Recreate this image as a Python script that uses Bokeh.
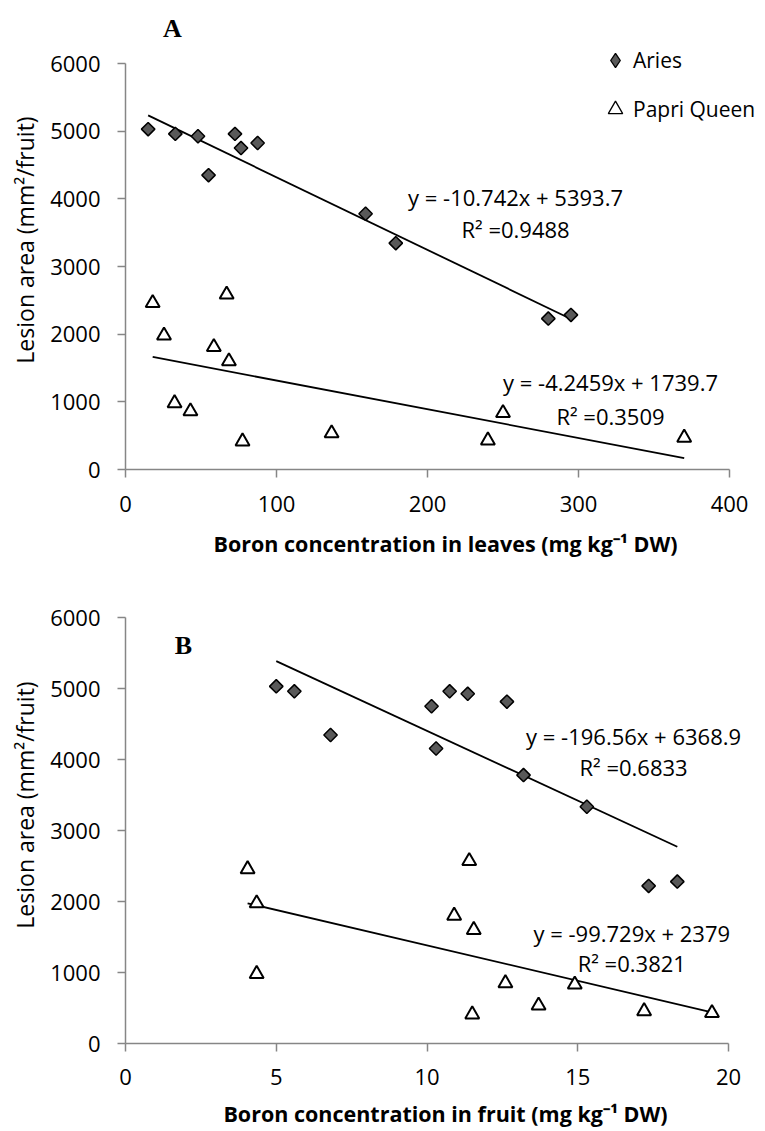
import numpy as np
from bokeh.plotting import figure
from bokeh.models import Range1d, Legend, LegendItem, Label, FixedTicker
from bokeh.layouts import column
from bokeh.embed import file_html
from bokeh.resources import INLINE

# ---------------- data ----------------
# Panel A: boron concentration in leaves (mg kg-1 DW) vs lesion area (mm2/fruit)
aries_leaf_b = [15, 33, 48, 55, 72.5, 76.5, 87.5, 159, 179, 280, 295]
aries_leaf_lesion = [5030, 4960, 4925, 4350, 4960, 4750, 4825, 3780, 3345, 2230, 2285]
papri_leaf_b = [18, 25.5, 32.5, 43, 58.5, 67, 68.5, 77.5, 136.5, 240, 250, 370]
papri_leaf_lesion = [2460, 1980, 980, 860, 1810, 2585, 1600, 415, 535, 430, 835, 470]

# Panel B: boron concentration in fruit (mg kg-1 DW) vs lesion area
aries_fruit_b = [5.0, 5.6, 6.8, 10.15, 10.3, 10.75, 11.35, 12.65, 13.2, 15.3, 17.35, 18.3]
aries_fruit_lesion = [5030, 4960, 4345, 4750, 4155, 4960, 4925, 4815, 3780, 3335, 2220, 2280]
papri_fruit_b = [4.05, 4.35, 4.35, 10.9, 11.4, 11.5, 11.55, 12.6, 13.7, 14.9, 17.2, 19.45]
papri_fruit_lesion = [2455, 1975, 980, 1800, 2570, 410, 1600, 850, 535, 830, 455, 430]

# linear trend lines (slope, intercept)
trend_A = {"Aries": (-10.742, 5393.7), "Papri": (-4.2459, 1739.7)}
trend_B = {"Aries": (-196.56, 6368.9), "Papri": (-99.729, 2379.0)}

eq_A = {"Aries": ("y = -10.742x + 5393.7", "R² =0.9488"),
        "Papri": ("y = -4.2459x + 1739.7", "R² =0.3509")}
eq_B = {"Aries": ("y = -196.56x + 6368.9", "R² =0.6833"),
        "Papri": ("y = -99.729x + 2379", "R² =0.3821")}

y_ticks = [0, 1000, 2000, 3000, 4000, 5000, 6000]
x_ticks_A = [0, 100, 200, 300, 400]
x_ticks_B = [0, 5, 10, 15, 20]

FONT = "Open Sans"
AX = "#868686"
DIAMOND_FILL = "#595959"


def style(p, xlabel, xticks, xmax, tick_standoff, title_standoff):
    p.xgrid.visible = False
    p.ygrid.visible = False
    p.outline_line_color = None
    p.xaxis.ticker = FixedTicker(ticks=xticks)
    p.yaxis.ticker = FixedTicker(ticks=y_ticks)
    p.xaxis.bounds = (0, xmax)
    p.yaxis.bounds = (0, 6000)
    for ax in (p.xaxis[0], p.yaxis[0]):
        ax.axis_line_color = AX
        ax.axis_line_width = 1.5
        ax.major_tick_line_color = AX
        ax.major_tick_line_width = 1.5
        ax.major_tick_out = 8
        ax.major_tick_in = 0
        ax.minor_tick_line_color = None
        ax.major_label_text_font = FONT
        ax.major_label_text_font_size = "22px"
        ax.major_label_text_color = "black"
        ax.axis_label_text_font = FONT
        ax.axis_label_text_color = "black"
    p.yaxis.major_label_standoff = 17
    p.xaxis.major_label_standoff = tick_standoff
    p.yaxis.axis_label = "Lesion area (mm²/fruit)"
    p.yaxis.axis_label_text_font_size = "23px"
    p.yaxis.axis_label_text_font_style = "normal"
    p.yaxis.axis_label_standoff = 6
    p.xaxis.axis_label = xlabel
    p.xaxis.axis_label_text_font_size = "21.5px"
    p.xaxis.axis_label_text_font_style = "bold"
    p.xaxis.axis_label_standoff = title_standoff


def panel(height, top, bottom, left, right, xmax, xend, yend, stand, xa, ya, xp, yp, trend,
          eqs, eq_pos, letter, letter_pos, xlabel, xticks, legend=False):
    p = figure(width=765, height=height, output_backend="svg", toolbar_location=None,
               x_range=Range1d(0, xend), y_range=Range1d(0, yend),
               min_border_left=left, min_border_right=right,
               min_border_top=top, min_border_bottom=bottom)
    style(p, xlabel, xticks, xmax, *stand)

    # trend lines
    for name, xs in (("Aries", xa), ("Papri", xp)):
        m, b = trend[name]
        lx = np.array([min(xs), max(xs)], dtype=float)
        p.line(lx, m * lx + b, line_color="black", line_width=1.8)

    # points
    p.scatter(xa, ya, marker="square", angle=np.pi / 4, size=9.5,
              fill_color=DIAMOND_FILL, line_color="black", line_width=1.5)
    p.scatter(xp, yp, marker="triangle", size=14,
              fill_color="white", line_color="black", line_width=2)

    # equations
    for name in ("Aries", "Papri"):
        (x1, y1), (x2, y2) = eq_pos[name]
        for (tx, ty), txt in (((x1, y1), eqs[name][0]), ((x2, y2), eqs[name][1])):
            p.add_layout(Label(x=tx, y=ty, text=txt, text_align="center",
                               text_baseline="middle", text_font=FONT,
                               text_font_size="22px", text_color="black"))

    # panel letter
    p.add_layout(Label(x=letter_pos[0], y=letter_pos[1], text=letter,
                       text_align="center", text_baseline="middle",
                       text_font="Liberation Serif", text_font_style="bold",
                       text_font_size="26px", text_color="black"))

    if legend:
        ra = p.scatter(x=[np.nan], y=[np.nan], marker="diamond", size=10,
                       fill_color=DIAMOND_FILL, line_color="black", line_width=1.3)
        rp = p.scatter(x=[np.nan], y=[np.nan], marker="triangle", size=10,
                       fill_color="white", line_color="black", line_width=1.3)
        lg = Legend(items=[LegendItem(label="Aries", renderers=[ra]),
                           LegendItem(label="Papri Queen", renderers=[rp])],
                    location=(472, 341), orientation="vertical",
                    glyph_width=36, glyph_height=38, label_height=38,
                    spacing=11, padding=0, margin=0, label_standoff=0,
                    label_text_font=FONT, label_text_font_size="21px",
                    label_text_color="black",
                    border_line_color=None, background_fill_alpha=0)
        p.add_layout(lg)
    return p


# panel A: frame 125..765 px horizontally, 10..469 px vertically (axis 0..400, 0..6000)
p1 = panel(561, 10, 92, 125, 0, 400, 400 * 640 / 604, 6000 * 459 / 406, (18, 14),
           aries_leaf_b, aries_leaf_lesion, papri_leaf_b, papri_leaf_lesion,
           trend_A, eq_A,
           {"Aries": ((258.3, 4034), (258.3, 3547)), "Papri": ((321.2, 1286), (321.2, 798))},
           "A", (31.1, 6517), "Boron concentration in leaves (mg kg⁻¹ DW)", x_ticks_A, legend=True)

# panel B: frame 124..765 px horizontally, 566..1043 px (page) vertically
p2 = panel(570, 5, 88, 124, 0, 20, 20 * 641 / 604, 6000 * 477 / 426, (17, 11),
           aries_fruit_b, aries_fruit_lesion, papri_fruit_b, papri_fruit_lesion,
           trend_B, eq_B,
           {"Aries": ((16.85, 4326), (16.85, 3890)), "Papri": ((16.79, 1559), (16.79, 1138))},
           "B", (1.92, 5604), "Boron concentration in fruit (mg kg⁻¹ DW)", x_ticks_B)

layout = column(p1, p2, spacing=0)
open("out.html", "w").write(file_html(layout, INLINE))
